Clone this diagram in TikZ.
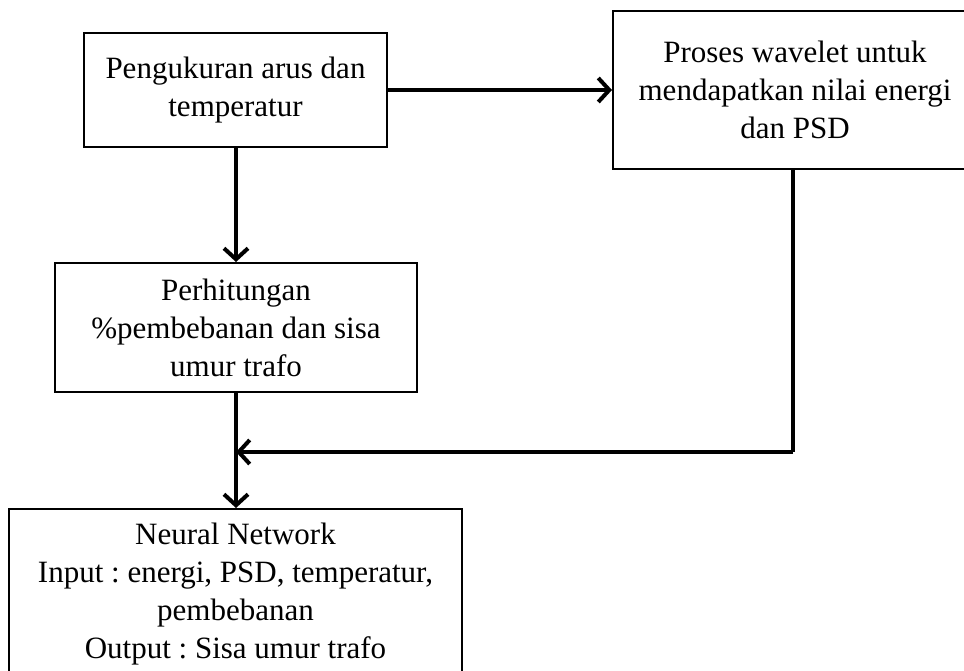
\documentclass[tikz,border=0pt]{standalone}
\usepackage{fontspec}
\setmainfont{Liberation Serif}
\usetikzlibrary{arrows.meta}
\tikzset{
  box/.style={draw=black, line width=2pt, align=center, inner sep=0pt,
    font=\fontsize{31}{38}\selectfont},
  conn/.style={line width=4pt},
  arr/.style={conn, -{Straight Barb[length=11pt,width=24pt,line width=4pt]}},
}
\begin{document}
\begin{tikzpicture}[x=1pt,y=-1pt]
\useasboundingbox (0,0) rectangle (964,671);
\clip (0,0) rectangle (964,671);
\node[box, minimum width=303pt, minimum height=114pt] (b1) at (235.5,90)
  {Pengukuran arus dan\\temperatur};
\node[box, minimum width=364pt, minimum height=158pt] (b2) at (795,90)
  {Proses wavelet untuk\\mendapatkan nilai energi\\dan PSD};
\node[box, minimum width=362pt, minimum height=129pt] (b3) at (236,327.5)
  {Perhitungan\\\%pembebanan dan sisa\\umur trafo};
\node[box, minimum width=453pt, minimum height=170pt] (b4) at (235.5,594)
  {Neural Network\\Input\ :\ energi, PSD, temperatur,\\pembebanan\\Output\ :\ Sisa umur trafo};
\coordinate (c1) at (793,452);
\coordinate (m) at (236,452);
\draw[arr] (b1.east) -- (b2.west |- b1.east);
\draw[arr] (b1.south -| b3.north) -- (b3.north);
\draw[conn] (b2.south -| c1) -- (c1);
\draw[arr] (c1) -- (m);
\draw[arr] (b3.south) -- (b4.north -| b3.south);
\end{tikzpicture}
\end{document}
